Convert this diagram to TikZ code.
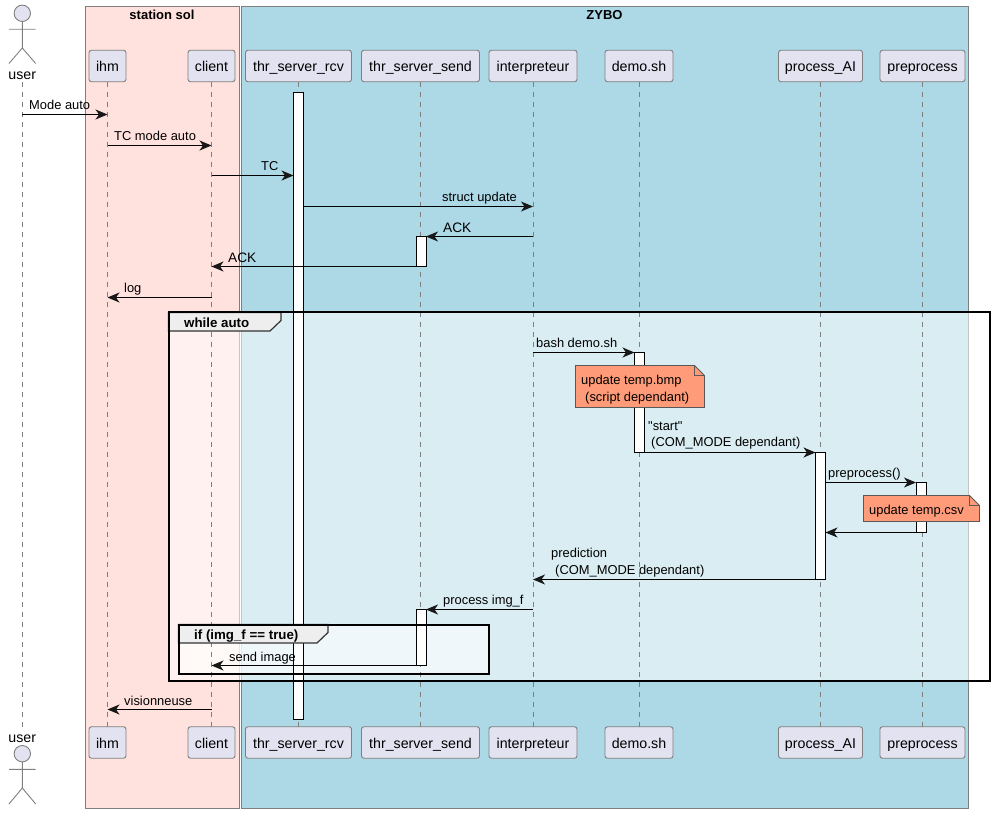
\documentclass[tikz,border=0pt]{standalone}
\usepackage{fontspec}
\setmainfont{Liberation Sans}
\newfontfamily\rawquote{Liberation Sans}
\usetikzlibrary{arrows.meta}
\definecolor{rosebox}{HTML}{FFE1DD}
\definecolor{bluebox}{HTML}{ADD8E6}
\definecolor{headfill}{HTML}{E2E2F0}
\definecolor{notefill}{HTML}{FF9B78}
\definecolor{edgegray}{HTML}{7F7F7F}
\definecolor{tabfill}{HTML}{EEEEEE}
\definecolor{inkline}{HTML}{181818}
\tikzset{
  groupbox/.style={draw=edgegray, line width=.9pt},
  grouptitle/.style={font=\fontsize{13}{15}\selectfont\bfseries, inner sep=0pt},
  head/.style={draw=edgegray, fill=headfill, rounded corners=2.5pt, line width=.9pt,
    minimum height=31.5pt, inner sep=0pt, outer sep=0pt, text height=12pt, text depth=0pt,
    font=\fontsize{14.2}{16}\selectfont},
  actorname/.style={anchor=base, inner sep=0pt, outer sep=0pt, text height=15pt, text depth=2pt,
    font=\fontsize{14.2}{16}\selectfont},
  lifeline/.style={draw=edgegray, line width=.8pt, dash pattern=on 5pt off 5pt},
  actbar/.style={draw=black, fill=white, line width=1pt, minimum width=10pt,
    inner sep=0pt, outer sep=0pt},
  msg/.style={draw=black, line width=1pt, -{Stealth[length=12pt,width=10pt,inset=3.5pt,color=inkline]}},
  msgtext/.style={anchor=base west, inner sep=0pt, font=\fontsize{12.9}{15}\selectfont},
  acktext/.style={anchor=base west, inner sep=0pt, font=\fontsize{13.7}{16}\selectfont},
  actorline/.style={draw=edgegray, line width=.9pt},
  frameline/.style={draw=black, line width=2pt},
  frametext/.style={anchor=base west, inner sep=0pt, font=\fontsize{13.3}{15}\selectfont\bfseries},
  tabshape/.style={draw=edgegray!40!black, fill=tabfill, line width=1.2pt},
  notebox/.style={draw=edgegray!70!black, fill=notefill, line width=.9pt},
}
\begin{document}
\begin{tikzpicture}[x=1pt, y=-1pt]
  \useasboundingbox (0,0) rectangle (994,813) ;
  % boxes
  \path[groupbox, fill=rosebox] (85.5,6) rectangle (239.5,808) ;
  \path[groupbox, fill=bluebox] (241,6) rectangle (968.5,808) ;
  \node[grouptitle] (stationtitle) at (162,15) {station sol} ;
  \node[grouptitle] (zybotitle) at (604.5,15) {ZYBO} ;
  % loop fills
  \fill[white, opacity=.55] (168,312) rectangle (990,680) ;
  \fill[white, opacity=.6] (178,624) rectangle (489,673) ;
  % participants
  \node[head, minimum width=37pt] (ihm) at (107.5,66) {ihm} ;
  \node[head, minimum width=47pt] (client) at (211.5,66) {client} ;
  \node[head, minimum width=106pt] (rcv) at (298.5,66) {thr\_server\_rcv} ;
  \node[head, minimum width=118pt] (send) at (420.5,66) {thr\_server\_send} ;
  \node[head, minimum width=88pt] (interp) at (533,66) {interpreteur} ;
  \node[head, minimum width=68pt] (demo) at (639,66) {demo.sh} ;
  \node[head, minimum width=84pt] (procai) at (820.5,66) {process\_AI} ;
  \node[head, minimum width=85pt] (prep) at (922.5,66) {preprocess} ;
  \node[head, minimum width=37pt] (ihmfoot) at (107.5,742.5) {ihm} ;
  \node[head, minimum width=47pt] (clientfoot) at (211.5,742.5) {client} ;
  \node[head, minimum width=106pt] (rcvfoot) at (298.5,742.5) {thr\_server\_rcv} ;
  \node[head, minimum width=118pt] (sendfoot) at (420.5,742.5) {thr\_server\_send} ;
  \node[head, minimum width=88pt] (interpfoot) at (533,742.5) {interpreteur} ;
  \node[head, minimum width=68pt] (demofoot) at (639,742.5) {demo.sh} ;
  \node[head, minimum width=84pt] (procaifoot) at (820.5,742.5) {process\_AI} ;
  \node[head, minimum width=85pt] (prepfoot) at (922.5,742.5) {preprocess} ;
  % actor
  \node[actorname] (user) at (22.3,80) {user} ;
  \node[actorname] (userfoot) at (22.3,742) {user} ;
  \draw[actorline, fill=headfill] (22.3,13.3) circle (8.2) ;
  \draw[actorline] (22.3,21.5) -- (22.3,48) (9,29.3) -- (35.7,29.3) (9,63.5) -- (22.3,48) -- (35.7,63.5) ;
  \draw[actorline, fill=headfill] (22.3,753.7) circle (8.2) ;
  \draw[actorline] (22.3,762) -- (22.3,788) (9,769.3) -- (35.7,769.3) (9,804) -- (22.3,788) -- (35.7,804) ;
  % lifelines
  \draw[lifeline] (user.south) -- (userfoot.north) ;
  \foreach \who in {ihm, client, rcv, send, interp, demo, procai, prep}
    \draw[lifeline] (\who.south) -- (\who foot.north) ;
  % activations
  \node[actbar, minimum height=626pt] (rcvbar) at (298.5,406) {} ;
  \node[actbar, minimum height=30pt] (sendbara) at (421,251.5) {} ;
  \node[actbar, minimum height=100pt] (demobar) at (639.5,402.5) {} ;
  \node[actbar, minimum height=127pt] (procaibar) at (820.5,516) {} ;
  \node[actbar, minimum height=50pt] (prepbar) at (921,507.5) {} ;
  \node[actbar, minimum height=56pt] (sendbarb) at (421,637.5) {} ;
  % message rows
  \foreach \rowname/\rowy in {ra/114.5, rb/145.5, rc/175.5, rd/206.5, re/236.5, rf/266.5, rg/297.5,
      rh/352.5, ri/452.5, rj/482.5, rk/532.5, rl/579.5, rm/609.5, rn/665.5, ro/709.5}
    \coordinate (\rowname) at (0,\rowy) ;
  % messages
  \draw[msg] (user.south |- ra) -- (ihm.south |- ra) ;
  \draw[msg] (ihm.south |- rb) -- (client.south |- rb) ;
  \draw[msg] (client.south |- rc) -- (rcvbar.west |- rc) ;
  \draw[msg] (rcvbar.east |- rd) -- (interp.south |- rd) ;
  \draw[msg] (interp.south |- re) -- (sendbara.east |- re) ;
  \draw[msg] (sendbara.west |- rf) -- (client.south |- rf) ;
  \draw[msg] (client.south |- rg) -- (ihm.south |- rg) ;
  \draw[msg] (interp.south |- rh) -- (demobar.west |- rh) ;
  \draw[msg] (demobar.east |- ri) -- (procaibar.west |- ri) ;
  \draw[msg] (procaibar.east |- rj) -- (prepbar.west |- rj) ;
  \draw[msg] (prepbar.west |- rk) -- (procaibar.east |- rk) ;
  \draw[msg] (procaibar.west |- rl) -- (interp.south |- rl) ;
  \draw[msg] (interp.south |- rm) -- (sendbarb.east |- rm) ;
  \draw[msg] (sendbarb.west |- rn) -- (client.south |- rn) ;
  \draw[msg] (client.south |- ro) -- (ihm.south |- ro) ;
  % message labels
  \node[msgtext] (tmode) at (29,110) {Mode auto} ;
  \node[msgtext] (ttcmode) at (114,140.5) {TC mode auto} ;
  \node[msgtext] (ttc) at (261,170.5) {TC} ;
  \node[msgtext] (tstruct) at (442,201.5) {struct update} ;
  \node[acktext] (tacka) at (443,232.5) {ACK} ;
  \node[acktext] (tackb) at (228,262.5) {ACK} ;
  \node[msgtext] (tlog) at (124,292.5) {log} ;
  \node[msgtext] (tbash) at (536,347.5) {bash demo.sh} ;
  \node[msgtext] (tstart) at (648,430.5) {\rawquote "start"} ;
  \node[msgtext] (tcoma) at (651,446.5) {(COM\_MODE dependant)} ;
  \node[msgtext] (tprep) at (828,477.5) {preprocess()} ;
  \node[msgtext] (tpred) at (551,557.5) {prediction} ;
  \node[msgtext] (tcomb) at (555,574.5) {(COM\_MODE dependant)} ;
  \node[msgtext] (tproc) at (443,604.5) {process img\_f} ;
  \node[msgtext] (tsend) at (229,661.5) {send image} ;
  \node[msgtext] (tvis) at (124,705) {visionneuse} ;
  % notes
  \draw[notebox] (575.5,365.5) -- (694.5,365.5) -- (704.5,375.5) -- (704.5,407.5) -- (575.5,407.5) -- cycle ;
  \draw[notebox, fill=none] (694.5,365.5) -- (694.5,375.5) -- (704.5,375.5) ;
  \node[msgtext] (tbmp) at (581,384.5) {update temp.bmp} ;
  \node[msgtext] (tscript) at (585,401.5) {(script dependant)} ;
  \draw[notebox] (863.5,495.5) -- (969.5,495.5) -- (979.5,505.5) -- (979.5,521.5) -- (863.5,521.5) -- cycle ;
  \draw[notebox, fill=none] (969.5,495.5) -- (969.5,505.5) -- (979.5,505.5) ;
  \node[msgtext] (tcsv) at (869,514.5) {update temp.csv} ;
  % frames
  \draw[tabshape] (168.5,312.5) -- (281,312.5) -- (281,320.5) -- (270,331) -- (168.5,331) -- cycle ;
  \node[frametext] (twhile) at (184,327) {while auto} ;
  \draw[frameline] (168.5,312.5) rectangle (990,680.5) ;
  \draw[tabshape] (178.5,624.5) -- (328,624.5) -- (328,632.5) -- (317,643) -- (178.5,643) -- cycle ;
  \node[frametext] (tif) at (194,639) {if (img\_f == true)} ;
  \draw[frameline] (178.5,624.5) rectangle (489,673.5) ;
\end{tikzpicture}
\end{document}
